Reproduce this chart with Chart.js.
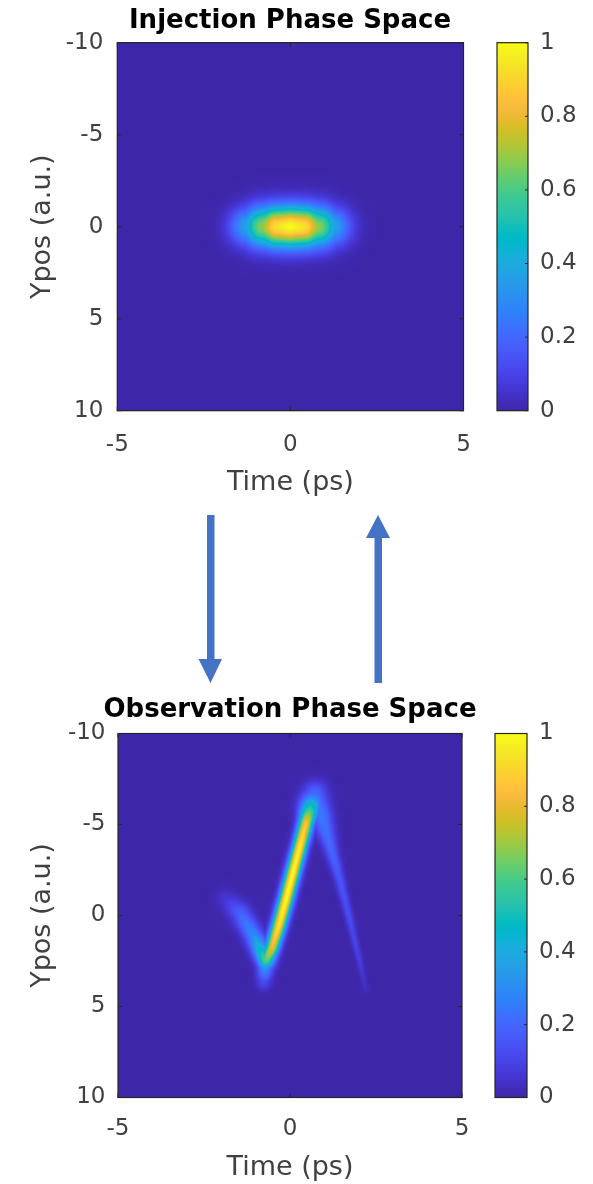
<!DOCTYPE html>
<html>
<head>
<meta charset="utf-8">
<script src="https://cdn.jsdelivr.net/npm/chart.js@4.4.1/dist/chart.umd.min.js"></script>
<style>
    html, body { margin: 0; padding: 0; background: #fff; }
    #page { position: relative; width: 593px; height: 1184px; overflow: hidden; background: #fff; }
    #page canvas, #page svg { position: absolute; left: 0; }
    #injChart { top: 0; }
    #obsChart { top: 690px; }
    #arrows { top: 0; }
</style>
</head>
<body>
<div id="page">
    <canvas id="injChart" width="580" height="500"></canvas>
    <svg id="arrows" width="593" height="1184">
        <polygon fill="#4472C4" points="207,515 214.5,515 214.5,659 222,659 210.5,683 198.5,659 207,659"/>
        <polygon fill="#4472C4" points="374.5,683 382,683 382,538 390,538 378,515 366,538 374.5,538"/>
    </svg>
    <canvas id="obsChart" width="580" height="494"></canvas>
</div>
<script>
// axis ticks
const timeTicks = [-5, 0, 5];
const yposTicks = [-10, -5, 0, 5, 10];
const levelTicks = [0, 0.2, 0.4, 0.6, 0.8, 1];
const levelLabels = ['0', '0.2', '0.4', '0.6', '0.8', '1'];

// injection phase space: bunch ridge along time (level = normalised density, spread in a.u.)
const injTime   = [-1.7, -1.2, -0.8, -0.4, 0, 0.4, 0.8, 1.2, 1.7];
const injYpos   = [0, 0, 0, 0, 0, 0, 0, 0, 0];
const injLevel  = [0.05, 0.38, 0.68, 0.93, 1, 0.93, 0.68, 0.38, 0.05];
const injSpread = [0.55, 0.72, 0.78, 0.78, 0.78, 0.78, 0.78, 0.72, 0.55];

// observation phase space: bright arm (left tail -> turn -> peak)
const obsArmTime   = [-1.86, -1.45, -1.05, -0.70, -0.52, -0.32, -0.12, 0.09, 0.29, 0.47, 0.61, 0.73];
const obsArmYpos   = [-0.90, -0.14, 1.12, 2.49, 1.78, 0.52, -0.85, -2.38, -3.81, -5.12, -6.00, -6.70];
const obsArmLevel  = [0.06, 0.18, 0.30, 0.62, 0.82, 0.95, 1.0, 1.0, 0.96, 0.85, 0.5, 0.2];
const obsArmSpread = [0.40, 0.40, 0.36, 0.32, 0.27, 0.27, 0.27, 0.27, 0.27, 0.29, 0.42, 0.46];

// faint falling arm after the peak
const obsTailTime   = [0.73, 0.90, 1.16, 1.45, 1.74, 1.98, 2.21];
const obsTailYpos   = [-6.70, -5.5, -3.86, -1.95, 0.25, 2.16, 4.08];
const obsTailLevel  = [0.2, 0.25, 0.2, 0.15, 0.12, 0.09, 0.03];
const obsTailSpread = [0.46, 0.42, 0.28, 0.2, 0.16, 0.13, 0.12];

// halo under the turning point
const obsHaloTime   = [-0.70, -0.76];
const obsHaloYpos   = [2.49, 3.64];
const obsHaloLevel  = [0.45, 0.12];
const obsHaloSpread = [0.3, 0.3];

// parula colormap (64 steps)
const parula = [
    [0.2422,0.1504,0.6603],[0.2504,0.1650,0.7076],[0.2578,0.1818,0.7511],[0.2647,0.1978,0.7952],
    [0.2706,0.2147,0.8364],[0.2751,0.2342,0.8710],[0.2783,0.2559,0.8991],[0.2803,0.2782,0.9221],
    [0.2813,0.3006,0.9414],[0.2810,0.3228,0.9579],[0.2795,0.3447,0.9717],[0.2760,0.3667,0.9829],
    [0.2699,0.3892,0.9906],[0.2602,0.4123,0.9952],[0.2440,0.4358,0.9988],[0.2206,0.4603,0.9973],
    [0.1963,0.4847,0.9892],[0.1834,0.5074,0.9798],[0.1786,0.5289,0.9682],[0.1764,0.5499,0.9520],
    [0.1687,0.5703,0.9359],[0.1540,0.5902,0.9218],[0.1460,0.6091,0.9079],[0.1380,0.6276,0.8973],
    [0.1248,0.6459,0.8883],[0.1113,0.6635,0.8763],[0.0952,0.6798,0.8598],[0.0689,0.6948,0.8394],
    [0.0297,0.7082,0.8163],[0.0036,0.7203,0.7917],[0.0067,0.7312,0.7660],[0.0433,0.7411,0.7394],
    [0.0964,0.7500,0.7120],[0.1408,0.7584,0.6842],[0.1717,0.7670,0.6554],[0.1938,0.7758,0.6251],
    [0.2161,0.7843,0.5923],[0.2470,0.7918,0.5567],[0.2906,0.7973,0.5188],[0.3406,0.8008,0.4789],
    [0.3909,0.8029,0.4354],[0.4456,0.8024,0.3909],[0.5044,0.7993,0.3480],[0.5616,0.7942,0.3045],
    [0.6174,0.7876,0.2612],[0.6720,0.7793,0.2227],[0.7242,0.7698,0.1910],[0.7738,0.7598,0.1646],
    [0.8203,0.7498,0.1535],[0.8634,0.7406,0.1596],[0.9035,0.7330,0.1774],[0.9393,0.7288,0.2100],
    [0.9728,0.7298,0.2394],[0.9956,0.7434,0.2371],[0.9970,0.7659,0.2199],[0.9952,0.7893,0.2028],
    [0.9892,0.8136,0.1885],[0.9786,0.8386,0.1766],[0.9676,0.8639,0.1643],[0.9610,0.8890,0.1537],
    [0.9597,0.9135,0.1423],[0.9628,0.9373,0.1265],[0.9691,0.9606,0.1064],[0.9769,0.9839,0.0805]
];

function parulaColor(v) {
    v = Math.max(0, Math.min(1, v)) * 63;
    const i = Math.min(62, Math.floor(v));
    const f = v - i;
    const a = parula[i], b = parula[i + 1];
    return [0, 1, 2].map(k => Math.round(255 * (a[k] + f * (b[k] - a[k]))));
}

function strand(time, ypos, level, spread) {
    return {
        data: time.map((t, i) => ({ x: t, y: ypos[i], v: level[i], s: spread[i] })),
        pointRadius: 0,
        showLine: false
    };
}

const AXIS_COLOR = '#262626';
const TEXT_COLOR = '#404040';
const FONT = 'DejaVu Sans';

// paints the density field and the colorbar
const phaseField = {
    id: 'phaseField',
    beforeDatasetsDraw(chart) {
        const { ctx, chartArea: area, scales } = chart;
        const xs = scales.x, ys = scales.y;
        const segs = [];
        chart.data.datasets.forEach(ds => {
            const pts = ds.data.map(p => ({
                px: xs.getPixelForValue(p.x),
                py: ys.getPixelForValue(p.y),
                v: p.v,
                s: Math.abs(ys.getPixelForValue(p.s) - ys.getPixelForValue(0))
            }));
            if (pts.length === 1) segs.push([pts[0], pts[0]]);
            for (let i = 0; i < pts.length - 1; i++) segs.push([pts[i], pts[i + 1]]);
        });
        const x0 = Math.floor(area.left), y0 = Math.floor(area.top);
        const w = Math.ceil(area.right) - x0, h = Math.ceil(area.bottom) - y0;
        const img = ctx.createImageData(w, h);
        for (let j = 0; j < h; j++) {
            for (let i = 0; i < w; i++) {
                const px = x0 + i + 0.5, py = y0 + j + 0.5;
                let val = 0;
                for (const [a, b] of segs) {
                    const dx = b.px - a.px, dy = b.py - a.py;
                    const len2 = dx * dx + dy * dy;
                    let u = len2 > 0 ? ((px - a.px) * dx + (py - a.py) * dy) / len2 : 0;
                    u = Math.max(0, Math.min(1, u));
                    const cx = a.px + u * dx - px, cy = a.py + u * dy - py;
                    const s = a.s + u * (b.s - a.s);
                    const v = (a.v + u * (b.v - a.v)) * Math.exp(-(cx * cx + cy * cy) / (2 * s * s));
                    if (v > val) val = v;
                }
                const c = parulaColor(val);
                const k = (j * w + i) * 4;
                img.data[k] = c[0];
                img.data[k + 1] = c[1];
                img.data[k + 2] = c[2];
                img.data[k + 3] = 255;
            }
        }
        ctx.putImageData(img, x0, y0);
    },
    afterDraw(chart, args, opts) {
        const { ctx, chartArea: area, scales } = chart;
        const xs = scales.x, ys = scales.y, cb = scales.cb;
        ctx.save();
        ctx.strokeStyle = AXIS_COLOR;
        ctx.lineWidth = 1.2;
        ctx.strokeRect(area.left, area.top, area.width, area.height);
        ctx.lineWidth = 1;
        ctx.beginPath();
        xs.ticks.forEach(t => {
            const p = xs.getPixelForValue(t.value);
            ctx.moveTo(p, area.bottom); ctx.lineTo(p, area.bottom - 4);
            ctx.moveTo(p, area.top); ctx.lineTo(p, area.top + 4);
        });
        ys.ticks.forEach(t => {
            const p = ys.getPixelForValue(t.value);
            ctx.moveTo(area.left, p); ctx.lineTo(area.left + 4, p);
            ctx.moveTo(area.right, p); ctx.lineTo(area.right - 4, p);
        });
        ctx.stroke();

        // colorbar
        const bl = area.right + opts.barLeft, bw = opts.barWidth;
        for (let py = Math.floor(cb.top); py < Math.ceil(cb.bottom); py++) {
            const c = parulaColor(cb.getValueForPixel(py + 0.5));
            ctx.fillStyle = `rgb(${c[0]},${c[1]},${c[2]})`;
            ctx.fillRect(bl, py, bw, 1);
        }
        ctx.lineWidth = 1.2;
        ctx.strokeRect(bl, cb.top, bw, cb.bottom - cb.top);
        ctx.lineWidth = 1;
        ctx.beginPath();
        cb.ticks.forEach(t => {
            const p = cb.getPixelForValue(t.value);
            ctx.moveTo(bl + bw, p); ctx.lineTo(bl + bw - 3, p);
        });
        ctx.stroke();
        ctx.restore();
    }
};

function makeChart(id, title, datasets, L) {
    const tickFont = { family: FONT, size: 23 };
    const labelFont = { family: FONT, size: 27 };
    return new Chart(document.getElementById(id), {
        type: 'scatter',
        data: { datasets: datasets },
        plugins: [phaseField],
        options: {
            responsive: false,
            animation: false,
            events: [],
            layout: { padding: 0 },
            plugins: {
                legend: { display: false },
                tooltip: { enabled: false },
                title: {
                    display: true,
                    text: title,
                    color: '#000',
                    font: { family: FONT, size: 26, weight: 'bold', lineHeight: 1.2 },
                    padding: { top: L.titleTop, bottom: L.titleBottom }
                },
                phaseField: { barLeft: L.barLeft, barWidth: L.barWidth }
            },
            scales: {
                x: {
                    type: 'linear', min: -5, max: 5,
                    afterBuildTicks: s => { s.ticks = timeTicks.map(v => ({ value: v })); },
                    afterFit: s => { s.height = L.xHeight; },
                    grid: { display: false, drawTicks: false },
                    border: { display: false },
                    ticks: { padding: L.xTickPad, color: TEXT_COLOR, font: tickFont, maxRotation: 0, autoSkip: false },
                    title: { display: true, text: 'Time (ps)', color: TEXT_COLOR, font: labelFont, padding: { top: 0, bottom: L.xTitlePad } }
                },
                y: {
                    type: 'linear', reverse: true, min: -10, max: 10,
                    afterBuildTicks: s => { s.ticks = yposTicks.map(v => ({ value: v })); },
                    afterFit: s => { s.width = L.yWidth; },
                    grid: { display: false, drawTicks: false },
                    border: { display: false },
                    ticks: { padding: L.yTickPad, color: TEXT_COLOR, font: tickFont, autoSkip: false },
                    title: { display: true, text: 'Ypos (a.u.)', color: TEXT_COLOR, font: labelFont, padding: { top: 26.8, bottom: 0 } }
                },
                cb: {
                    type: 'linear', axis: 'y', position: 'right', min: 0, max: 1,
                    afterBuildTicks: s => { s.ticks = levelTicks.map(v => ({ value: v })); },
                    afterFit: s => { s.width = L.cbWidth; },
                    // invisible tick marks push the labels past the colorbar
                    grid: { display: true, drawOnChartArea: false, drawTicks: true, tickLength: L.cbOffset, tickColor: 'rgba(0,0,0,0)' },
                    border: { display: false },
                    ticks: { padding: 12, color: TEXT_COLOR, font: tickFont, autoSkip: false,
                             callback: (v, i) => levelLabels[i] }
                }
            }
        }
    });
}

makeChart('injChart', 'Injection Phase Space',
    [strand(injTime, injYpos, injLevel, injSpread)],
    { titleTop: 6.1, titleBottom: 5.4, xHeight: 89.3, xTickPad: 20.5, xTitlePad: 1.3,
      yWidth: 117.3, yTickPad: 14, cbWidth: 116.5, cbOffset: 64.5, barLeft: 33.5, barWidth: 31 });

makeChart('obsChart', 'Observation Phase Space',
    [strand(obsArmTime, obsArmYpos, obsArmLevel, obsArmSpread),
     strand(obsTailTime, obsTailYpos, obsTailLevel, obsTailSpread),
     strand(obsHaloTime, obsHaloYpos, obsHaloLevel, obsHaloSpread)],
    { titleTop: 4.4, titleBottom: 7.9, xHeight: 86.5, xTickPad: 17.7, xTitlePad: 0,
      yWidth: 118, yTickPad: 12.5, cbWidth: 118, cbOffset: 65, barLeft: 33, barWidth: 32 });
</script>
</body>
</html>
